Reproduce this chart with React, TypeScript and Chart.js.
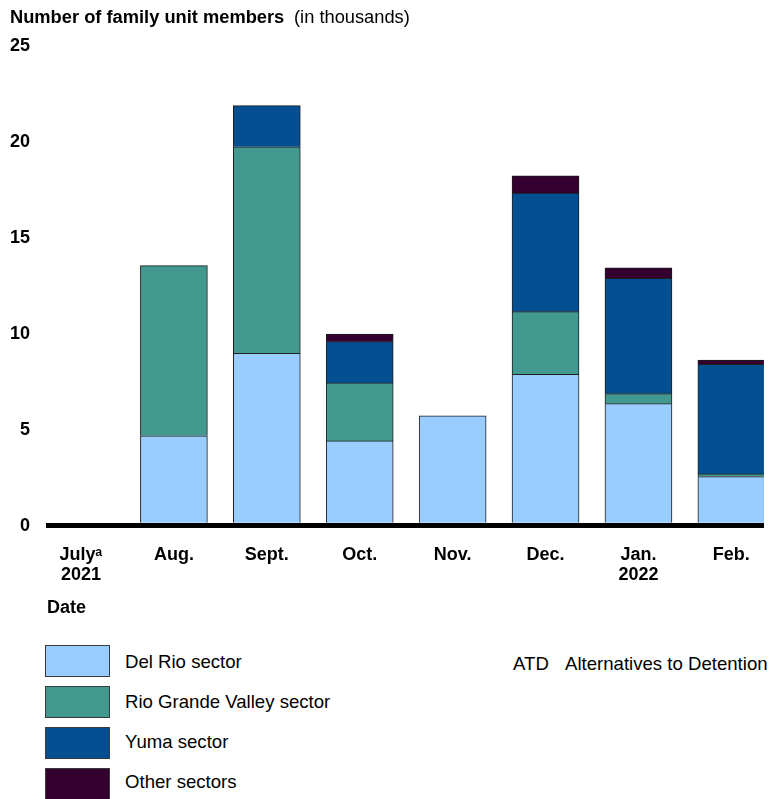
import React, { useEffect, useRef } from "react";
import { Chart, registerables } from "chart.js";

Chart.register(...registerables);

// ---- data ----
const months = ["July\u1D43", "Aug.", "Sept.", "Oct.", "Nov.", "Dec.", "Jan.", "Feb."];
const years = ["2021", "", "", "", "", "", "2022", ""];
const delRio = [0, 4.53, 8.82, 4.26, 5.57, 7.73, 6.2, 2.4];
const rioGrande = [0, 8.86, 10.76, 3.02, 0, 3.26, 0.52, 0.14];
const yuma = [0, 0, 2.14, 2.15, 0, 6.18, 6.01, 5.71];
const otherSectors = [0, 0, 0, 0.4, 0, 0.89, 0.55, 0.22];
const yTicks = [0, 5, 10, 15, 20, 25];
const seriesNames = ["Del Rio sector", "Rio Grande Valley sector", "Yuma sector", "Other sectors"];
const seriesValues = [delRio, rioGrande, yuma, otherSectors];
const seriesColors = ["#99CCFF", "#41998F", "#044F92", "#330030"];

const FONT = '"Liberation Sans", Arial, Helvetica, sans-serif';

export default function App() {
  const canvasRef = useRef<HTMLCanvasElement | null>(null);

  useEffect(() => {
    const canvas = canvasRef.current;
    if (!canvas) return;
    const tickFont = { family: FONT, size: 18, weight: "bold" as const, lineHeight: 1.111 };
    const chart = new Chart(canvas, {
      type: "bar",
      data: {
        datasets: seriesNames.map((name, k) => ({
          label: name,
          data: seriesValues[k].map((v, i) => ({ x: i, y: v })),
          backgroundColor: seriesColors[k],
          borderColor: "#1e1e1e",
          borderWidth: 1,
          barThickness: 67,
        })),
      },
      options: {
        animation: false,
        responsive: false,
        layout: { padding: { top: 42.7, right: 3, bottom: 0, left: 0 } },
        plugins: { legend: { display: false }, tooltip: { enabled: false } },
        scales: {
          x: {
            type: "linear",
            stacked: true,
            offset: false,
            min: -0.355,
            max: 7.35,
            grid: { display: false, drawTicks: false },
            border: { display: true, width: 5, color: "#000" },
            afterBuildTicks: (s: any) => {
              s.ticks = months.map((_, i) => ({ value: i }));
            },
            afterFit: (s: any) => {
              s.height = 105;
            },
            ticks: {
              padding: 20,
              autoSkip: false,
              maxRotation: 0,
              color: "#000",
              font: tickFont,
              callback: (v: any) => {
                const i = Math.round(Number(v));
                return years[i] ? [months[i], years[i]] : months[i];
              },
            },
          },
          y: {
            stacked: true,
            min: -0.12,
            max: 25,
            grid: { display: false, drawTicks: false },
            border: { display: false },
            afterBuildTicks: (s: any) => {
              s.ticks = yTicks.map((v) => ({ value: v }));
            },
            afterFit: (s: any) => {
              s.width = 48;
            },
            ticks: {
              padding: 18,
              labelOffset: 3.5,
              color: "#000",
              font: tickFont,
            },
          },
        },
      },
    });
    return () => chart.destroy();
  }, []);

  const textStyle: React.CSSProperties = {
    position: "absolute",
    fontFamily: FONT,
    fontSize: 18,
    lineHeight: "18px",
    color: "#000",
    whiteSpace: "nowrap",
  };
  const legendText: React.CSSProperties = { ...textStyle, fontSize: 18.6 };

  return (
    <div
      style={{
        position: "absolute",
        left: 0,
        top: 0,
        width: 770,
        height: 799,
        overflow: "hidden",
        background: "#fff",
      }}
    >
      <canvas
        ref={canvasRef}
        width={770}
        height={630}
        style={{ position: "absolute", left: 0, top: 0, display: "block" }}
      />
      <div style={{ ...textStyle, left: 10, top: 7.6, fontWeight: "bold", fontSize: 18.3 }}>
        Number of family unit members
      </div>
      <div style={{ ...textStyle, left: 294, top: 7.6, fontSize: 18.3 }}>(in thousands)</div>
      <div style={{ ...textStyle, left: 47, top: 597.6, fontWeight: "bold" }}>Date</div>
      {seriesNames.map((name, k) => (
        <React.Fragment key={name}>
          <div
            style={{
              position: "absolute",
              left: 45,
              top: 645 + 41 * k,
              width: 65,
              height: 32,
              boxSizing: "border-box",
              border: "1.5px solid #3a3a3a",
              background: seriesColors[k],
            }}
          />
          <div style={{ ...legendText, left: 125, top: 652.5 + 40 * k }}>{name}</div>
        </React.Fragment>
      ))}
      <div style={{ ...legendText, left: 513, top: 654.5 }}>ATD</div>
      <div style={{ ...legendText, left: 565, top: 654.5 }}>Alternatives to Detention</div>
    </div>
  );
}
